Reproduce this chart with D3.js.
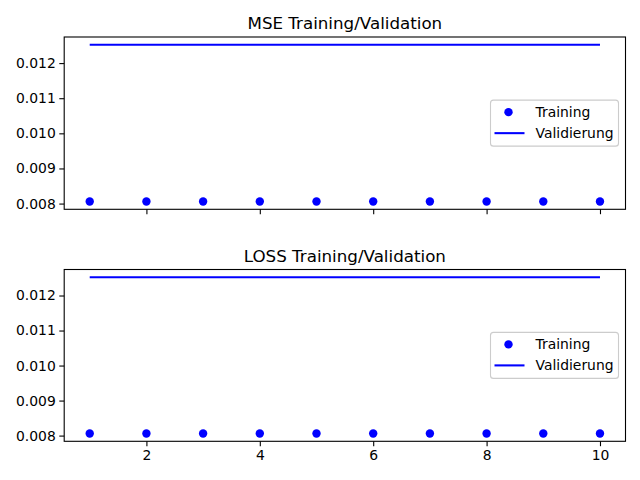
<!DOCTYPE html>
<html><head><meta charset="utf-8">
<script src="https://cdn.jsdelivr.net/npm/d3@7"></script>
<style>body{margin:0;background:#fff}svg{display:block}text{font-family:"DejaVu Sans",sans-serif}</style>
</head><body>
<script>
const epochs = [1,2,3,4,5,6,7,8,9,10];
const mseTraining = [0.00806,0.00806,0.00806,0.00806,0.00806,0.00806,0.00806,0.00806,0.00806,0.00806];
const mseValidation = [0.01252,0.01252,0.01252,0.01252,0.01252,0.01252,0.01252,0.01252,0.01252,0.01252];
const lossTraining = [0.00806,0.00806,0.00806,0.00806,0.00806,0.00806,0.00806,0.00806,0.00806,0.00806];
const lossValidation = [0.01252,0.01252,0.01252,0.01252,0.01252,0.01252,0.01252,0.01252,0.01252,0.01252];
const yTicks = [0.008,0.009,0.010,0.011,0.012];
const xTicks = [2,4,6,8,10];
const titles = ["MSE Training/Validation","LOSS Training/Validation"];
const legendLabels = ["Training","Validierung"];

const W=640,H=480;
const svg=d3.select("body").append("svg").attr("width",W).attr("height",H);
const color="#0000ff";
const panels=[
  {title:titles[0],train:mseTraining,val:mseValidation,top:37,bottom:209.3,showX:false},
  {title:titles[1],train:lossTraining,val:lossValidation,top:269.5,bottom:441.3,showX:true}
];
const left=64.2,right=625.5;

function padDomain(vals){
  const mn=d3.min(vals),mx=d3.max(vals),m=(mx-mn)*0.05;
  return [mn-m,mx+m];
}

panels.forEach(p=>{
  const xd=padDomain(epochs);
  const x=d3.scaleLinear().domain(xd).range([left,right]);
  const y=d3.scaleLinear().domain(padDomain(p.train.concat(p.val))).range([p.bottom,p.top]);
  const g=svg.append("g");

  g.append("path").datum(epochs.map((e,i)=>[e,p.val[i]]))
    .attr("d",d3.line().x(d=>x(d[0])).y(d=>y(d[1])))
    .attr("fill","none").attr("stroke",color).attr("stroke-width",2.08);
  g.selectAll("circle.tr").data(epochs.map((e,i)=>[e,p.train[i]])).enter()
    .append("circle").attr("cx",d=>x(d[0])).attr("cy",d=>y(d[1])).attr("r",4.2).attr("fill",color);

  const ax=d3.axisBottom(x).tickValues(xTicks).tickSize(4.9).tickPadding(3.5)
    .tickFormat(p.showX?d3.format("d"):()=>"");
  const xa=g.append("g").attr("transform",`translate(0,${p.bottom})`).call(ax);
  const ay=d3.axisLeft(y).tickValues(yTicks).tickSize(4.9).tickPadding(3.5).tickFormat(d3.format(".3f"));
  const ya=g.append("g").attr("transform",`translate(${left},0)`).call(ay);
  [xa,ya].forEach(a=>{
    a.select(".domain").remove();
    a.selectAll(".tick line").attr("stroke","#000").attr("stroke-width",1.1);
    a.selectAll(".tick text").attr("fill","#000").style("font-size","13.9px").style("font-family","DejaVu Sans");
  });
  g.append("rect").attr("x",left).attr("y",p.top).attr("width",right-left).attr("height",p.bottom-p.top)
    .attr("fill","none").attr("stroke","#000").attr("stroke-width",1.1);

  g.append("text").attr("x",(left+right)/2).attr("y",p.top-8).attr("text-anchor","middle")
    .style("font-size","16.7px").attr("fill","#000").text(p.title);

  const lw=128,lh=46;
  const lx=right-7-lw, ly=(p.top+p.bottom)/2-lh/2;
  const lg=g.append("g");
  lg.append("rect").attr("x",lx).attr("y",ly).attr("width",lw).attr("height",lh).attr("rx",3)
    .attr("fill","#fff").attr("fill-opacity",0.8).attr("stroke","#cccccc").attr("stroke-width",1.1);
  lg.append("circle").attr("cx",lx+18).attr("cy",ly+12).attr("r",4.2).attr("fill",color);
  lg.append("line").attr("x1",lx+4).attr("x2",lx+34).attr("y1",ly+33).attr("y2",ly+33)
    .attr("stroke",color).attr("stroke-width",2.08);
  lg.selectAll("text.lt").data(legendLabels).enter().append("text")
    .attr("x",lx+45).attr("y",(d,i)=>ly+17+i*21).style("font-size","13.9px").attr("fill","#000").text(d=>d);
});
</script>
</body></html>
